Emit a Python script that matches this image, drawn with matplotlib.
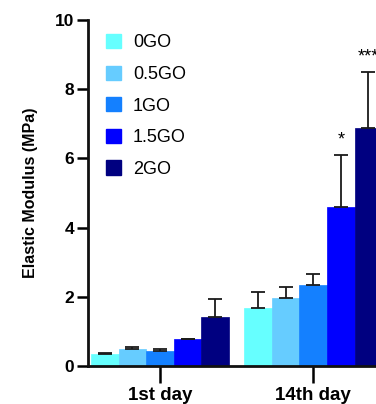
import matplotlib
matplotlib.use("Agg")
import matplotlib.pyplot as plt
from matplotlib.patches import Patch
import numpy as np

plt.rcParams['font.family'] = ['Liberation Sans', 'DejaVu Sans']

groups = ["1st day", "14th day"]
series = ["0GO", "0.5GO", "1GO", "1.5GO", "2GO"]
colors = ["#66FFFF", "#66CCFF", "#1480FF", "#0000FF", "#000080"]
means = {
    "0GO":   [0.35, 1.69],
    "0.5GO": [0.48, 1.97],
    "1GO":   [0.43, 2.34],
    "1.5GO": [0.77, 4.60],
    "2GO":   [1.41, 6.87],
}
errs = {
    "0GO":   [0.03, 0.46],
    "0.5GO": [0.08, 0.31],
    "1GO":   [0.06, 0.32],
    "1.5GO": [0.02, 1.50],
    "2GO":   [0.54, 1.62],
}
sig = {("14th day", "1.5GO"): "*", ("14th day", "2GO"): "***"}
yticks = [0, 2, 4, 6, 8, 10]

W, H = 376, 404
fig = plt.figure(figsize=(W / 100, H / 100), dpi=100)
left = 88 / W
bottom = (H - 366) / H
height = (366 - 20) / H
xmin, xmax = -2.61, 8.2
bw_px = 27.6
width = (xmax - xmin) * bw_px / W
ax = fig.add_axes([left, bottom, width, height])

centers = np.array([0.0, 5.55])
for i, s in enumerate(series):
    x = centers + (i - 2)
    ax.bar(x, means[s], width=1.0, color=colors[i], edgecolor=colors[i],
           linewidth=0.5, zorder=2)
    ax.errorbar(x, means[s], yerr=[np.zeros(2), errs[s]], fmt='none',
                ecolor='#1a1a1a', elinewidth=1.3, capsize=5, capthick=1.3,
                zorder=3)
    for gi, g in enumerate(groups):
        if (g, s) in sig:
            ax.text(x[gi], means[s][gi] + errs[s][gi] + 0.2, sig[(g, s)],
                    ha='center', va='bottom', fontsize=13, color='black')

ax.set_xlim(xmin, xmax)
ax.set_ylim(0, 10)
ax.set_yticks(yticks)
ax.set_yticklabels([str(t) for t in yticks], fontsize=12.5, fontweight='bold')
ax.set_xticks(centers)
ax.set_xticklabels(groups, fontsize=13.5, fontweight='bold')
ax.tick_params(axis='y', length=8, width=1.8, pad=2)
ax.tick_params(axis='x', length=12, width=1.8, pad=3)
for sp in ['top', 'right']:
    ax.spines[sp].set_visible(False)
for sp in ['left', 'bottom']:
    ax.spines[sp].set_linewidth(2)
    ax.spines[sp].set_color('#111111')
ax.set_ylabel("Elastic Modulus (MPa)", fontsize=11.5, fontweight='bold', labelpad=12)

handles = [Patch(facecolor=c, edgecolor=c) for c in colors]
leg = fig.legend(handles, series, loc='upper left', bbox_to_anchor=(106 / W, 1 - 34 / H),
                 frameon=False, fontsize=13, handlelength=0.85, handleheight=0.85,
                 handletextpad=0.65, labelspacing=0.78, borderpad=0, borderaxespad=0)

fig.savefig("out.png", dpi=100)
